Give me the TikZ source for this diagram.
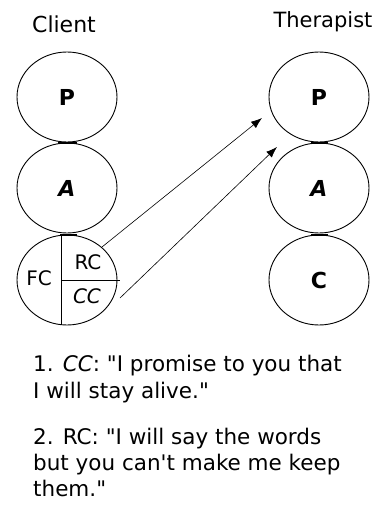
\documentclass[tikz,border=0pt]{standalone}
\usepackage{fontspec}
\setmainfont{DejaVu Sans}
\usetikzlibrary{shapes.geometric,arrows.meta}
\begin{document}
\begin{tikzpicture}[x=1pt,y=-1pt,
  ego/.style={draw,ellipse,line width=0.9pt,minimum width=100pt,minimum height=90pt,inner sep=0pt,font=\fontsize{22}{22}\selectfont\bfseries},
  lbl/.style={font=\fontsize{20}{20}\selectfont},
  ttl/.style={font=\fontsize{21}{21}\selectfont},
  link/.style={-{Latex[length=11pt,width=8pt]},line width=0.6pt},
  bar/.style={line width=2.2pt},
  txt/.style={anchor=base west,align=left,inner sep=0pt,font=\fontsize{21.5}{27}\selectfont}]
\useasboundingbox (0,0) rectangle (381,506);
\node[ttl,font=\fontsize{22}{22}\selectfont] (tc) at (64,24) {Client};
\node[ttl] (tt) at (323,22) {Therapist};
% client
\node[ego] (cp) at (67,97) {P};
\node[ego] (ca) at (67,188) {\itshape A};
\node[ego] (cc) at (67,280) {};
\draw[bar] (58,143) -- (77,143);
\draw[bar] (60,235) -- (77,235);
\coordinate (vt) at (61,235);
\coordinate (vb) at (61,325);
\coordinate (hl) at (61,280);
\coordinate (hr) at (120,280);
\draw[line width=0.9pt] (vt) -- (vb);
\draw[line width=0.9pt] (hl) -- (hr);
\node[lbl] (fc) at (39,278) {FC};
\node[lbl] (rc) at (88,262) {RC};
\node[lbl] (ccl) at (87,296) {\itshape CC};
% therapist
\node[ego] (tp) at (319,97) {P};
\node[ego] (ta) at (319,188) {\itshape A};
\node[ego] (tch) at (319,280) {C};
\draw[bar] (311,143) -- (328,143);
\draw[bar] (311,235) -- (328,235);
% arrows
\coordinate (s1) at (102,247);
\coordinate (e1) at (262,118);
\coordinate (s2) at (120,298);
\coordinate (e2) at (277,147);
\draw[link] (s1) -- (e1);
\draw[link] (s2) -- (e2);
% text
\node[txt] (t1) at (33,398) {1. \textit{CC}: \textquotedbl I promise to you that\\I will stay alive.\textquotedbl};
\node[txt,font=\fontsize{21.5}{26}\selectfont] (t2) at (33,496) {2. RC: \textquotedbl I will say the words\\but you can\textquotesingle t make me keep\\them.\textquotedbl};
\end{tikzpicture}
\end{document}
